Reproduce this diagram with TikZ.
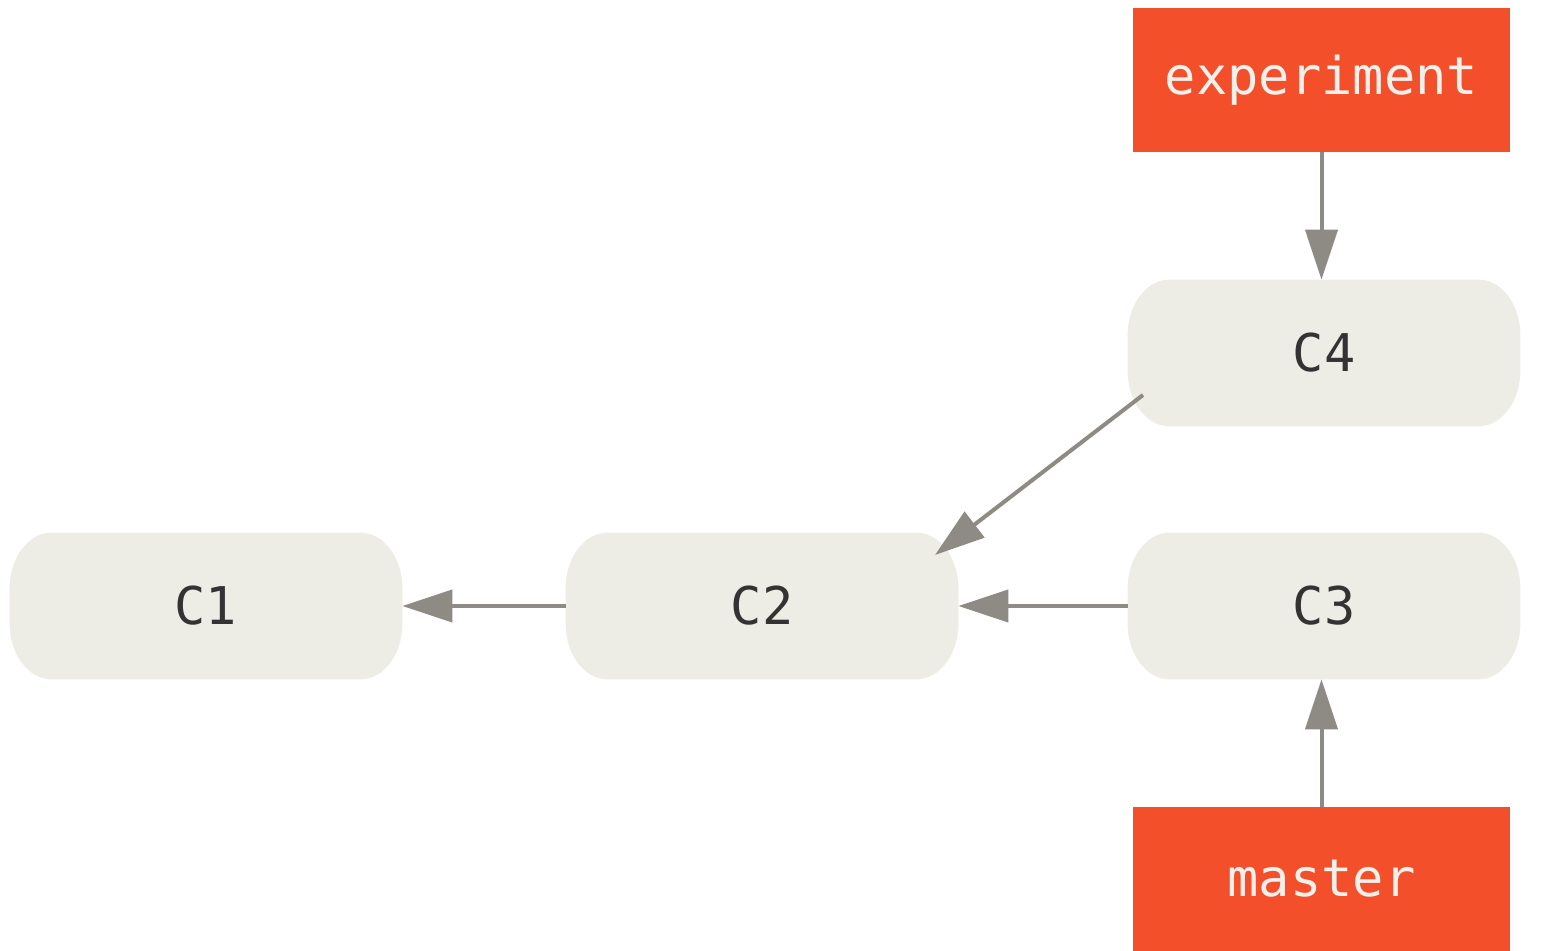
\documentclass[tikz,border=0pt]{standalone}
\usepackage{fontspec}
\setmonofont{DejaVu Sans Mono}
\usetikzlibrary{arrows.meta,calc,backgrounds}
\definecolor{branchred}{HTML}{F24F2A}
\definecolor{commitfill}{HTML}{EDECE5}
\definecolor{commitfg}{HTML}{333333}
\definecolor{linkgray}{HTML}{8E8A84}
\definecolor{labelfg}{HTML}{F2F0EA}
\tikzset{
  commit/.style={rectangle, minimum width=196pt, minimum height=73pt,
    inner sep=0pt, text=commitfg, font=\ttfamily\fontsize{26}{30}\selectfont},
  branch/.style={rectangle, fill=branchred, minimum width=188.5pt,
    minimum height=72pt, inner sep=0pt, text=labelfg,
    font=\ttfamily\fontsize{26}{30}\selectfont},
  link/.style={draw=linkgray, line width=2pt,
    -{Triangle[length=25pt,width=16pt]}},
}
% commit body: rectangle with elliptical corners
\newcommand{\commitbody}[1]{%
  \fill[commitfill] ($(#1.north west)+(21pt,0)$) -- ($(#1.north east)+(-21pt,0)$)
    arc[start angle=90, end angle=0, x radius=21pt, y radius=28pt]
    -- ($(#1.south east)+(0,28pt)$)
    arc[start angle=0, end angle=-90, x radius=21pt, y radius=28pt]
    -- ($(#1.south west)+(21pt,0)$)
    arc[start angle=270, end angle=180, x radius=21pt, y radius=28pt]
    -- ($(#1.north west)+(0,-28pt)$)
    arc[start angle=180, end angle=90, x radius=21pt, y radius=28pt]
    -- cycle;}
\begin{document}
\begin{tikzpicture}[x=0.5pt,y=-0.5pt]
  \useasboundingbox (0,0) rectangle (1565,951);

  % commits
  \node[commit] (c1) at (206,606) {C1};
  \node[commit] (c2) at (762,606) {C2};
  \node[commit] (c3) at (1324,606) {C3};
  \node[commit] (c4) at (1324,353) {C4};

  \begin{scope}[on background layer]
    \fill[white] (0,0) rectangle (1565,951);
    \commitbody{c1}
    \commitbody{c2}
    \commitbody{c3}
    \commitbody{c4}
  \end{scope}

  % branch labels
  \node[branch] (exp) at (1321.5,80) {experiment};
  \node[branch] (master) at (1321.5,879) {master};

  % parent links
  \draw[link] (c2.west) -- (c1.east);
  \draw[link] (c3.west) -- (c2.east);
  \draw[link] ($(c4.center)+(-181,42)$) -- ($(c2.center)+(173,-51)$);
  \draw[link] (exp.south) -- (exp.south |- c4.north);
  \draw[link] (master.north) -- (master.north |- c3.south);
\end{tikzpicture}
\end{document}
